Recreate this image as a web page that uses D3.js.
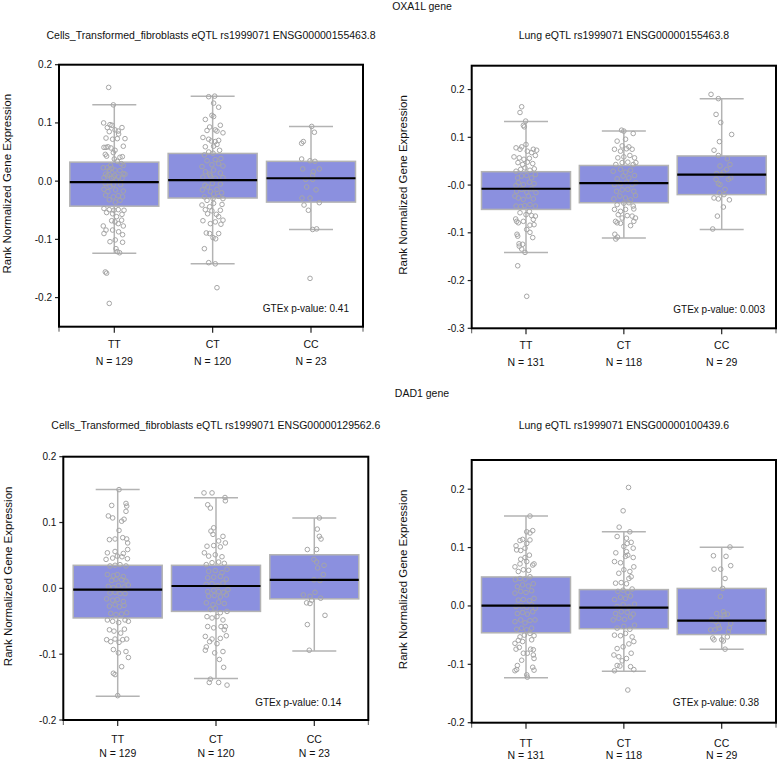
<!DOCTYPE html>
<html><head><meta charset="utf-8">
<script src="https://cdn.jsdelivr.net/npm/d3@7"></script>
<style>body{margin:0;background:#fff}svg{display:block;font-family:Arial,"Liberation Sans",sans-serif}</style>
</head><body><svg id="c" width="778" height="761"></svg>
<script>
// ---------------- DATA ----------------
const genotypes = ["TT", "CT", "CC"];
const geneLabels = ["OXA1L gene", "DAD1 gene"];
const panelTitles = [
  "Cells_Transformed_fibroblasts eQTL rs1999071 ENSG00000155463.8",
  "Lung eQTL rs1999071 ENSG00000155463.8",
  "Cells_Transformed_fibroblasts eQTL rs1999071 ENSG00000129562.6",
  "Lung eQTL rs1999071 ENSG00000100439.6"
];
const yAxisTitle = "Rank Normalized Gene Expression";
const pValues = ["0.41", "0.003", "0.14", "0.38"];
const sampleSizes = [[129, 120, 23], [131, 118, 29], [129, 120, 23], [131, 118, 29]];
const yDomains = [[-0.25, 0.2], [-0.3, 0.25], [-0.2, 0.2], [-0.2, 0.25]];
const yTickValues = [
  [-0.2, -0.1, 0, 0.1, 0.2],
  [-0.3, -0.2, -0.1, 0, 0.1, 0.2],
  [-0.2, -0.1, 0, 0.1, 0.2],
  [-0.2, -0.1, 0, 0.1, 0.2]
];
const yTickLabels = [
  ["-0.2", "-0.1", "0.0", "0.1", "0.2"],
  ["-0.3", "-0.2", "-0.1", "-0.0", "0.1", "0.2"],
  ["-0.2", "-0.1", "0.0", "0.1", "0.2"],
  ["-0.2", "-0.1", "0.0", "0.1", "0.2"]
];
// box stats per genotype: [lower whisker, q1, median, q3, upper whisker]
const p1Box = [[-0.124, -0.043, -0.0017, 0.0327, 0.131], [-0.142, -0.029, 0.0017, 0.0476, 0.146], [-0.083, -0.036, 0.005, 0.034, 0.094]];
const p2Box = [[-0.141, -0.051, -0.0077, 0.028, 0.133], [-0.111, -0.037, 0.004, 0.041, 0.113], [-0.093, -0.020, 0.022, 0.061, 0.181]];
const p3Box = [[-0.164, -0.045, -0.002, 0.035, 0.150], [-0.137, -0.035, 0.0036, 0.035, 0.1376], [-0.095, -0.016, 0.013, 0.051, 0.107]];
const p4Box = [[-0.123, -0.046, 0.0006, 0.0497, 0.154], [-0.112, -0.039, -0.003, 0.028, 0.127], [-0.074, -0.049, -0.025, 0.030, 0.1006]];

// points: [jitter (-1..1), value]
const p1TT = [[-.47,.161],[-.08,.131],[-.89,.100],[-.36,.097],[-.19,.096],[-.58,.092],[.64,.092],[.06,.088],[.33,.086],[-.42,.085],[-.69,.074],[-.14,.072],[.25,.073],[.89,.073],[.36,.081],[-.69,.058],[-.86,.058],[-.53,.059],[-.28,.057],[.75,.060],[.06,.053],[-.08,.049],[-.75,.046],[-.64,.043],[.47,.041],[.67,.042],[0,.038],[.25,.034],[.58,.030],[-.31,.027],[.75,.027],[-.92,.023],[-.58,.023],[-.22,.022],[-.42,.019],[.06,.019],[.47,.018],[-.72,.012],[-.42,.011],[.03,.010],[.75,.013],[.89,.012],[-.08,.007],[.36,.007],[-.86,.006],[-.58,.009],[-.22,.005],[.64,.005],[.17,.002],[-.75,-.004],[-.08,-.006],[.53,-.006],[-.36,-.009],[-.86,-.014],[.11,-.015],[.75,-.017],[-.53,-.018],[-.72,-.024],[.33,-.025],[-.08,-.027],[.69,-.027],[-.42,-.032],[.47,-.033],[.08,-.036],[-.86,-.047],[-.42,-.049],[-.03,-.050],[.33,-.049],[.81,-.050],[-.64,-.054],[-.14,-.056],[.64,-.057],[.19,-.061],[-.22,-.068],[.06,-.070],[.61,-.067],[.33,-.073],[.75,-.077],[-.92,-.077],[-.69,-.084],[-.86,-.090],[-.14,-.084],[.36,-.087],[.69,-.092],[-.36,-.104],[.08,-.101],[.69,-.105],[.14,-.116],[.25,-.121],[.44,-.123],[-.75,-.156],[-.64,-.158],[-.42,-.210]];
const p1CT = [[.36,-.183],[-.33,-.140],[.22,-.142],[-.69,-.116],[-.53,-.089],[.03,-.097],[.25,-.099],[-.25,-.090],[.5,-.090],[-.81,-.068],[-.19,-.073],[.22,-.070],[.69,-.074],[.5,-.061],[.86,-.067],[-.61,-.049],[-.06,-.051],[.64,-.050],[-.42,-.056],[.31,-.057],[-.89,-.041],[.08,-.038],[.78,-.040],[-.25,-.044],[-.69,-.027],[.03,-.030],[.5,-.026],[.86,-.030],[-.47,-.033],[-.86,-.015],[-.19,-.018],[.36,-.014],[.75,-.020],[.08,-.022],[-.64,-.007],[-.03,-.004],[.64,-.005],[-.42,-.010],[-.81,.007],[.22,.005],[-.19,.009],[.86,.006],[-.61,.016],[.08,.019],[.64,.014],[-.25,.012],[-.89,.025],[-.06,.028],[.5,.030],[.86,.026],[-.47,.035],[.22,.037],[.69,.039],[-.69,.045],[.03,.048],[.58,.053],[-.33,.050],[-.61,.059],[.08,.060],[.36,.063],[-.81,.075],[-.33,.072],[-.11,.069],[.22,.068],[.5,.070],[.86,.083],[.22,.088],[-.47,.087],[.36,.086],[-.25,.093],[.64,.096],[-.61,.106],[.08,.111],[-.06,.113],[.5,.127],[.08,.134],[-.33,.145],[.17,.146]];
const p1CC = [[.06,.094],[.28,.084],[-.78,.065],[-.64,.068],[-.78,.038],[-.08,.035],[.33,.034],[.69,.021],[-.69,.021],[.14,.010],[.19,.016],[-.36,-.010],[-.75,-.029],[-.08,-.029],[-.58,-.041],[-.22,-.050],[.69,-.037],[-.44,.003],[.14,.003],[.14,-.083],[.47,-.082],[-.08,-.167],[.42,-.015]];

const p2TT = [[.06,-.233],[-.69,-.169],[-.08,-.141],[-.36,-.134],[-.56,-.128],[-.28,-.124],[-.58,-.123],[-.75,-.103],[-.69,-.107],[.33,-.099],[.56,-.110],[.06,-.093],[-.86,-.071],[-.64,-.079],[-.22,-.076],[.61,-.072],[.33,-.084],[.67,-.083],[-.78,-.076],[-.5,-.058],[.47,-.064],[.78,-.065],[0,-.062],[.28,-.055],[-.83,-.044],[-.44,-.045],[-.11,-.043],[.33,-.041],[.78,-.044],[-.64,-.027],[-.22,-.030],[.19,-.023],[.61,-.029],[-.92,-.023],[-.78,-.013],[-.36,-.009],[.06,-.015],[.47,-.008],[.83,-.016],[-.64,.005],[-.22,.001],[.28,.006],[.67,.003],[-.83,-.001],[-.69,.015],[-.36,.019],[.06,.020],[.47,.015],[.78,.022],[-.83,.029],[-.44,.033],[-.08,.036],[.33,.031],[.69,.034],[-.67,.047],[-.28,.043],[.11,.048],[.56,.045],[-1,.059],[-.56,.057],[-.17,.054],[.28,.056],[.78,.062],[-.83,.078],[-.5,.075],[.11,.071],[.61,.075],[.89,.073],[.47,.068],[-.36,.080],[0,.085],[-.14,.122],[-.22,.125],[-.03,.134],[-.5,.152],[-.36,.164]];
const p2CT = [[-.67,-.113],[-.53,-.109],[-.75,-.103],[-.56,-.079],[-.69,-.076],[-.28,-.080],[.56,-.085],[.83,-.076],[-.14,-.069],[.28,-.064],[.69,-.065],[.97,-.069],[-.47,-.062],[-.28,-.055],[.14,-.051],[.83,-.050],[-.78,-.051],[-.56,-.041],[0,-.038],[.42,-.037],[.78,-.044],[-.83,-.029],[-.33,-.023],[.14,-.027],[.56,-.031],[.97,-.022],[-.61,-.013],[-.14,-.010],[.33,-.009],[.83,-.013],[-.78,.001],[-.28,.003],[.22,.006],[.69,.001],[1,.005],[-.56,.013],[-.06,.019],[.42,.015],[.89,.020],[-.89,.029],[-.28,.033],[.14,.027],[.56,.031],[-.67,.043],[-.14,.047],[.33,.048],[.78,.043],[1,.047],[-.5,.057],[0,.059],[.5,.062],[.89,.057],[-.78,.075],[-.28,.071],[.22,.076],[.69,.075],[-.56,.092],[.78,.108],[-.14,.082],[.42,.080],[.14,.096],[-.19,.115],[0,.113]];
const p2CC = [[-.89,.190],[-.28,.181],[-.47,.148],[-.08,.131],[-.19,.091],[.83,.106],[-.64,.073],[-.28,.062],[.47,.055],[-.14,.040],[.69,.043],[.42,.033],[0,.022],[.75,.015],[-.42,.024],[.14,.027],[-.47,.012],[-.28,.003],[.56,.012],[-.19,-.016],[.19,-.020],[-.64,-.027],[-.28,-.029],[.64,-.031],[.14,-.046],[-.36,-.065],[-.75,-.092],[-.14,.001],[.28,-.009]];

const p3TT = [[0,-.163],[-.36,-.129],[-.22,-.131],[.33,-.119],[-.36,-.093],[.06,-.098],[.69,-.096],[.89,-.105],[-.92,-.078],[-.58,-.081],[-.22,-.077],[.11,-.082],[.42,-.078],[.75,-.077],[-.69,-.063],[-.31,-.065],[.25,-.068],[.56,-.062],[-.86,-.048],[-.42,-.050],[.08,-.052],[.61,-.048],[.89,-.050],[-.58,-.038],[-.14,-.040],[.33,-.039],[.75,-.037],[-.69,-.027],[-.22,-.025],[.14,-.028],[.53,-.026],[-.92,-.016],[-.42,-.018],[-.03,-.017],[.47,-.020],[-.64,-.007],[-.22,-.006],[.19,-.008],[.61,-.008],[-.78,.003],[-.36,.001],[.06,.004],[.53,.002],[.89,.005],[-.5,.012],[-.14,.014],[.33,.013],[.69,.011],[-.86,.021],[-.36,.019],[-.03,.021],[.47,.018],[-.64,.034],[-.22,.035],[.19,.036],[.69,.034],[-.97,.044],[-.42,.046],[-.03,.049],[.36,.048],[.81,.045],[-.86,.054],[-.22,.056],[.47,.053],[.83,.059],[-.69,.074],[-.22,.075],[.42,.077],[.75,.075],[.83,.069],[.11,.088],[.33,.102],[.53,.105],[.69,.117],[-.78,.110],[-.42,.107],[-.5,.126],[.69,.129],[.75,.125],[.11,.150]];
const p3CT = [[.92,-.147],[-.56,-.143],[.22,-.143],[-.47,-.138],[.64,-.120],[.28,-.108],[-.89,-.094],[-.81,-.089],[-.11,-.098],[.58,-.096],[-.53,-.081],[.08,-.084],[-.89,-.073],[-.33,-.077],[.36,-.076],[.69,-.063],[.86,-.072],[-.69,-.058],[-.19,-.060],[.42,-.058],[.78,-.058],[-.75,-.043],[-.33,-.045],[.08,-.043],[.58,-.048],[-.47,-.032],[-.06,-.030],[.36,-.037],[.92,-.035],[-.81,-.022],[-.25,-.025],[.22,-.021],[.69,-.023],[-.61,-.012],[-.14,-.011],[.36,-.013],[.86,-.010],[-.69,-.005],[-.19,-.003],[.22,-.005],[.64,-.006],[1,-.002],[-.81,.006],[-.33,.007],[.14,.004],[.58,.008],[-.69,.016],[-.19,.017],[.36,.018],[.86,.014],[-.61,.026],[-.06,.027],[.5,.024],[.92,.029],[-.81,.036],[-.33,.039],[.22,.040],[.69,.038],[-.61,.049],[-.06,.051],[.5,.048],[-.97,.054],[-.75,.064],[-.19,.065],[.36,.063],[.78,.069],[.22,.072],[-.25,.082],[.58,.079],[-.19,.092],[-.42,.087],[-.69,.127],[-.47,.122],[.75,.138],[.78,.133],[-1,.145],[-.33,.145]];
const p3CC = [[.42,.107],[.25,.090],[.56,.075],[.42,.079],[-.58,.059],[.19,.059],[-.03,.044],[.19,.040],[.28,.031],[.81,.035],[.75,.021],[.47,.012],[.06,-.006],[-.92,-.010],[-.36,-.012],[-.22,-.018],[-.64,-.022],[-.36,-.023],[.53,-.015],[.89,-.041],[-.58,-.055],[-.42,-.094],[-.03,.013]];

const p4TT = [[.11,-.122],[.06,-.118],[-.92,-.111],[-.78,-.109],[.67,-.110],[.56,-.105],[-.72,-.102],[-.36,-.093],[.67,-.090],[.61,-.084],[-.22,-.081],[.11,-.081],[.39,-.074],[.61,-.075],[-.83,-.074],[-.56,-.071],[-.92,-.064],[-.64,-.059],[-.28,-.061],[.47,-.058],[-.5,-.053],[-.14,-.050],[.33,-.047],[.67,-.051],[-.78,-.040],[-.36,-.038],[.06,-.041],[.47,-.038],[-.92,-.027],[-.44,-.024],[-.08,-.029],[.33,-.025],[.75,-.024],[-.72,-.013],[-.28,-.011],[.11,-.014],[.56,-.010],[-.83,-.001],[-.36,0],[.06,-.002],[.47,.002],[.78,-.004],[-.64,.010],[-.22,.011],[.28,.009],[.67,.013],[-.92,.022],[-.44,.025],[0,.023],[.47,.026],[-.72,.033],[-.28,.036],[.19,.034],[.61,.038],[-.89,.045],[-.5,.047],[-.08,.046],[.33,.050],[-.64,.059],[-.22,.062],[.22,.061],[.56,.070],[.67,.072],[-.92,.067],[-.5,.072],[.06,.076],[-.08,.083],[-.44,.080],[-.78,.096],[-.83,.103],[-.5,.112],[-.28,.114],[.06,.107],[-.08,.099],[.33,.113],[.56,.129],[.06,.127],[.33,.125],[-.44,.095],[.28,.087],[.33,.154]];
const p4CT = [[.33,-.144],[-.78,-.111],[.83,-.109],[-.56,-.102],[-.33,-.103],[.56,-.104],[-.14,-.094],[-.83,-.084],[-.42,-.087],[.22,-.090],[.61,-.081],[-.56,-.073],[-.06,-.070],[.42,-.065],[.83,-.061],[-.78,-.050],[-.28,-.051],[.14,-.047],[.69,-.053],[-.56,-.038],[0,-.035],[.5,-.040],[.89,-.033],[-.89,-.024],[-.42,-.021],[.06,-.023],[.56,-.019],[-.69,-.013],[-.22,-.010],[.28,-.011],[.78,-.014],[-.56,-.001],[-.06,.002],[.42,-.002],[.89,.003],[-.78,.011],[-.28,.015],[.14,.013],[.56,.017],[-.5,.025],[-.06,.027],[.33,.023],[.69,.029],[-.69,.039],[-.22,.040],[.22,.038],[.61,.050],[.42,.047],[-.42,.056],[0,.062],[.5,.059],[.83,.067],[-.78,.076],[-.28,.074],[.14,.085],[.33,.087],[.22,.093],[.78,.083],[-.67,.091],[.28,.107],[.61,.109],[.78,.099],[0,.102],[-.56,.119],[.22,.116],[.5,.127],[-.39,.135],[-.06,.163],[.39,.203]];
const p4CC = [[.69,.101],[-.69,.086],[.36,.085],[.75,.069],[-.64,.063],[-.08,.063],[.28,.047],[.08,.030],[-.11,.016],[.14,-.010],[.47,-.014],[-.83,-.024],[-.47,-.027],[.75,-.030],[-.28,-.033],[-.92,-.041],[-.56,-.041],[.56,-.044],[-.75,-.055],[-.64,-.058],[0,-.058],[.14,-.060],[.47,-.053],[.28,-.074],[-.14,-.021],[-.42,-.013],[.22,-.015],[-.19,-.038],[.64,-.038]];

const panelBoxes = [p1Box, p2Box, p3Box, p4Box];
const panelPoints = [[p1TT, p1CT, p1CC], [p2TT, p2CT, p2CC], [p3TT, p3CT, p3CC], [p4TT, p4CT, p4CC]];

// ---------------- LAYOUT ----------------
const layouts = [
  {L: 59,    R: 363,   T: 64.7,  B: 326.7, inL: 55.3, inR: 52,   titleY: 35,    yTitleX: 7,   pvR: 14, pvB: 18, lab1: 17, lab2: 34},
  {L: 471.7, R: 776,   T: 65.7,  B: 328.3, inL: 54.3, inR: 54.3, titleY: 35,    yTitleX: 403, pvR: 11, pvB: 19, lab1: 17, lab2: 34},
  {L: 63.3,  R: 368.3, T: 456.7, B: 720,   inL: 54.4, inR: 54,   titleY: 425,   yTitleX: 8,   pvR: 27, pvB: 18, lab1: 19, lab2: 33},
  {L: 471.7, R: 776,   T: 460,   B: 722.7, inL: 54.3, inR: 54.3, titleY: 425,   yTitleX: 403, pvR: 17, pvB: 20, lab1: 20, lab2: 32}
];
const geneLabelPos = [{x: 422, y: 6}, {x: 422, y: 393}];

const BOX_FILL = "#8b90df", GRAY = "#b3b3b3", PT = "#a6a6a6";
const BOX_W = 89, CAP_W = 44, JIT = 12;

const svg = d3.select("#c");

geneLabels.forEach((g, i) => {
  svg.append("text").attr("x", geneLabelPos[i].x).attr("y", geneLabelPos[i].y)
    .attr("text-anchor", "middle").attr("dominant-baseline", "central")
    .attr("font-size", 10.5).attr("fill", "#111").text(g);
});

layouts.forEach((lay, pi) => {
  const g = svg.append("g");
  const y = d3.scaleLinear().domain(yDomains[pi]).range([lay.B, lay.T]);
  const x = d3.scalePoint().domain(genotypes).range([lay.L + lay.inL, lay.R - lay.inR]);

  // title
  g.append("text").attr("x", (lay.L + lay.R) / 2).attr("y", lay.titleY)
    .attr("text-anchor", "middle").attr("dominant-baseline", "central")
    .attr("font-size", 10.5).attr("fill", "#111").text(panelTitles[pi]);

  // y axis title
  const yc = (lay.T + lay.B) / 2 - 12;
  g.append("text").attr("transform", `translate(${lay.yTitleX},${yc}) rotate(-90)`)
    .attr("text-anchor", "middle").attr("dominant-baseline", "central")
    .attr("font-size", 11.5).attr("fill", "#111").text(yAxisTitle);

  genotypes.forEach((gt, gi) => {
    const s = panelBoxes[pi][gi];
    const cx = x(gt);
    // whiskers
    g.append("line").attr("x1", cx).attr("x2", cx).attr("y1", y(s[0])).attr("y2", y(s[4]))
      .attr("stroke", GRAY).attr("stroke-width", 1.5);
    [s[0], s[4]].forEach(v => {
      g.append("line").attr("x1", cx - CAP_W / 2).attr("x2", cx + CAP_W / 2)
        .attr("y1", y(v)).attr("y2", y(v)).attr("stroke", GRAY).attr("stroke-width", 1.5);
    });
    // box
    g.append("rect").attr("x", cx - BOX_W / 2).attr("width", BOX_W)
      .attr("y", y(s[3])).attr("height", y(s[1]) - y(s[3]))
      .attr("fill", BOX_FILL).attr("stroke", GRAY).attr("stroke-width", 1.5);
    // points
    g.selectAll(null).data(panelPoints[pi][gi]).join("circle")
      .attr("cx", d => cx + d[0] * JIT).attr("cy", d => y(d[1])).attr("r", 2.3)
      .attr("fill", "none").attr("stroke", PT).attr("stroke-width", 1);
    // median
    g.append("line").attr("x1", cx - BOX_W / 2).attr("x2", cx + BOX_W / 2)
      .attr("y1", y(s[2])).attr("y2", y(s[2])).attr("stroke", "#000").attr("stroke-width", 2.2);
    // x labels
    g.append("text").attr("x", cx).attr("y", lay.B + lay.lab1).attr("text-anchor", "middle")
      .attr("dominant-baseline", "central").attr("font-size", 10.5).attr("fill", "#111").text(gt);
    g.append("text").attr("x", cx).attr("y", lay.B + lay.lab2).attr("text-anchor", "middle")
      .attr("dominant-baseline", "central").attr("font-size", 10.5).attr("fill", "#111")
      .text("N = " + sampleSizes[pi][gi]);
    // x tick
    g.append("line").attr("x1", cx).attr("x2", cx).attr("y1", lay.B).attr("y2", lay.B + 6)
      .attr("stroke", "#222").attr("stroke-width", 1.2);
  });
  [lay.L, lay.R].forEach(xx => {
    g.append("line").attr("x1", xx).attr("x2", xx).attr("y1", lay.B).attr("y2", lay.B + 5)
      .attr("stroke", "#555").attr("stroke-width", 1);
  });

  // y ticks
  yTickValues[pi].forEach((v, ti) => {
    g.append("line").attr("x1", lay.L - 4).attr("x2", lay.L).attr("y1", y(v)).attr("y2", y(v))
      .attr("stroke", "#222").attr("stroke-width", 1.2);
    g.append("text").attr("x", lay.L - 7).attr("y", y(v)).attr("text-anchor", "end")
      .attr("dominant-baseline", "central").attr("font-size", 10).attr("fill", "#111")
      .text(yTickLabels[pi][ti]);
  });

  // frame
  g.append("rect").attr("x", lay.L).attr("y", lay.T).attr("width", lay.R - lay.L).attr("height", lay.B - lay.T)
    .attr("fill", "none").attr("stroke", "#000").attr("stroke-width", 2);

  // p-value
  g.append("text").attr("x", lay.R - lay.pvR).attr("y", lay.B - lay.pvB).attr("text-anchor", "end")
    .attr("dominant-baseline", "central").attr("font-size", 10).attr("fill", "#111")
    .text("GTEx p-value: " + pValues[pi]);
});
</script></body></html>
